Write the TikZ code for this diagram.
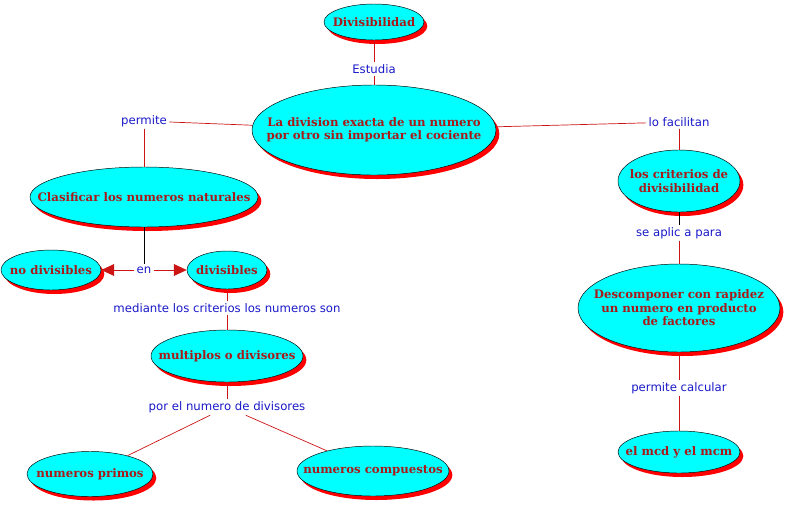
\documentclass[tikz,border=0pt]{standalone}
\usepackage{fontspec}
\newfontfamily\bubfont{DejaVu Serif}
\newfontfamily\lblfont{DejaVu Sans}
\definecolor{BubCyan}{RGB}{0, 255, 255}
\definecolor{DarkRed}{RGB}{170, 25, 25}
\definecolor{LinkRed}{RGB}{205, 20, 20}
\definecolor{LblBlue}{RGB}{25, 25, 200}
\usetikzlibrary{arrows.meta, positioning, shapes.geometric, shadows}

\begin{document}
\begin{tikzpicture}[
    on grid,
    bub/.style={ellipse, draw, fill=BubCyan, inner sep=-3cm, align=center,
                text=DarkRed, font=\bubfont\bfseries\fontsize{10}{11.5}\selectfont,
                drop shadow={shadow xshift=0.1cm, shadow yshift=-0.12cm,
                             fill=red, opacity=1}},
    lbl/.style={text=LblBlue, font=\lblfont\fontsize{10}{12}\selectfont, inner sep=2pt},
    link/.style={LinkRed, line width=0.6pt},
    arrow/.style={-{Triangle[length=11pt, width=10pt]}, LinkRed, line width=0.6pt}]

\useasboundingbox (0,0) rectangle (23.61,-15.12);

% centre
\node[bub, minimum width=3cm, minimum height=1.08cm] (top) at (11.22,-0.66) {Divisibilidad};
\node[lbl, below=1.41cm of top] (stud) {Estudia};
\node[bub, minimum width=7.32cm, minimum height=2.7cm, below=1.83cm of stud] (main)
    {La division exacta de un numero\\por otro sin importar el cociente};

% left branch
\node[lbl, above left=0.27cm and 6.9cm of main] (perm) {permite};
\node[bub, minimum width=6.84cm, minimum height=1.8cm, below=2.28cm of perm] (clas)
    {Clasificar los numeros naturales};
\node[lbl, below=2.19cm of clas] (en) {en};
\node[bub, minimum width=3cm, minimum height=1.2cm, left=2.79cm of en] (nodiv) {no divisibles};
\node[bub, minimum width=2.4cm, minimum height=1.14cm, right=2.49cm of en] (div) {divisibles};
\node[lbl, below=1.14cm of div] (med) {mediante los criterios los numeros son};
\node[bub, minimum width=4.56cm, minimum height=1.56cm, below=1.44cm of med] (mult)
    {multiplos o divisores};
\node[lbl, below=1.53cm of mult] (por) {por el numero de divisores};
\node[bub, minimum width=3.78cm, minimum height=1.35cm, below left=2.01cm and 4.11cm of por] (prim)
    {numeros primos};
\node[bub, minimum width=4.56cm, minimum height=1.5cm, below right=1.92cm and 4.38cm of por] (comp)
    {numeros compuestos};

% right branch
\node[lbl, above right=0.24cm and 9.15cm of main] (facil) {lo facilitan};
\node[bub, minimum width=3.66cm, minimum height=1.86cm, below=1.77cm of facil] (crit)
    {los criterios de\\divisibilidad};
\node[lbl, below=1.56cm of crit] (aplic) {se aplic a para};
\node[bub, minimum width=6.06cm, minimum height=2.64cm, below=2.25cm of aplic] (desc)
    {Descomponer con rapidez\\un numero en producto\\de factores};
\node[lbl, below=2.4cm of desc] (calc) {permite calcular};
\node[bub, minimum width=3.66cm, minimum height=1.26cm, below=1.92cm of calc] (mcd)
    {el mcd y el mcm};

\draw[link] (top) -- (stud);
\draw[link] (stud) -- (main);
\draw[link] (main) -- (perm);
\draw[link] (perm) -- (clas);
\draw (clas) -- (en);
\draw[arrow] (en) -- (nodiv);
\draw[arrow] (en) -- (div);
\draw[link] (div) -- (med);
\draw[link] (med) -- (mult);
\draw[link] (mult) -- (por);
\draw[link] (por) -- (prim);
\draw[link] (por) -- (comp);
\draw[link] (main) -- (facil);
\draw[link] (facil) -- (crit);
\draw (crit) -- (aplic);
\draw[link] (aplic) -- (desc);
\draw[link] (desc) -- (calc);
\draw[link] (calc) -- (mcd);
\end{tikzpicture}
\end{document}
